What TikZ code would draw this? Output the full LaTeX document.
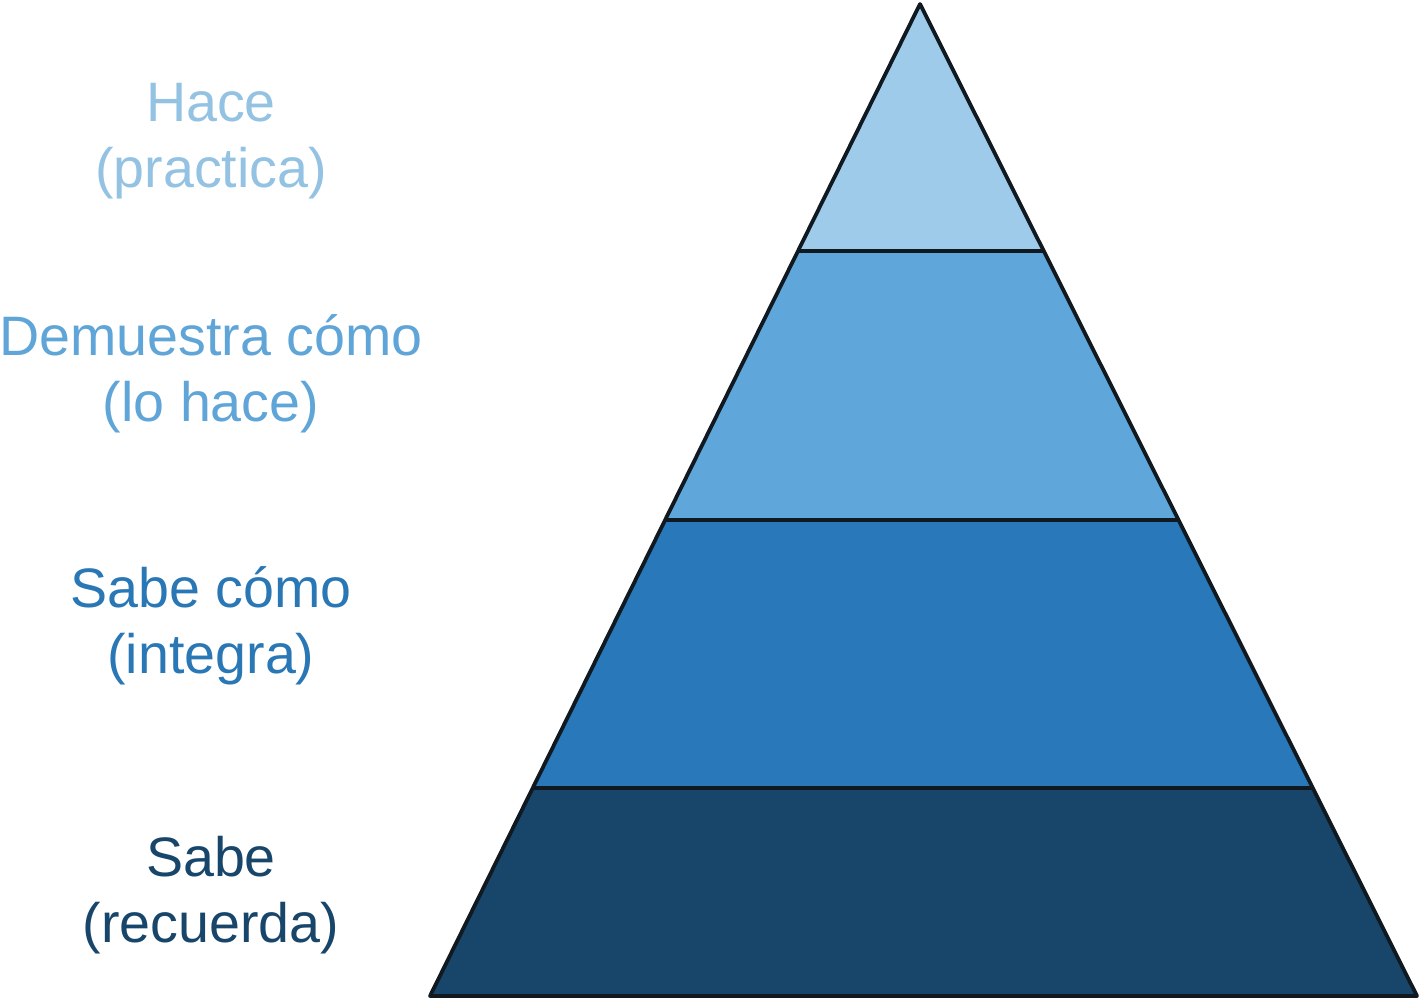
\documentclass[tikz,border=0pt]{standalone}
\usepackage{fontspec}
\setmainfont{Liberation Sans}
\definecolor{cA}{HTML}{9FCBEB}
\definecolor{cB}{HTML}{5FA7DB}
\definecolor{cC}{HTML}{2878BA}
\definecolor{cD}{HTML}{18466A}
\definecolor{tA}{HTML}{93C2E3}
\definecolor{tB}{HTML}{5FA5D8}
\definecolor{tC}{HTML}{2A77B5}
\definecolor{tD}{HTML}{18466A}
\definecolor{edge}{HTML}{101820}
\begin{document}
\begin{tikzpicture}[x=1pt,y=-1pt,
  band/.style={draw=edge,line width=3.8pt,line join=round},
  lbl/.style={align=center,font=\fontsize{55.6}{66}\selectfont,inner sep=0pt,anchor=base}]
\useasboundingbox (0,0) rectangle (1421,999);
\coordinate (T) at (920,4);
\coordinate (L) at (430,996);
\coordinate (R) at (1417,996);
\path (T) -- (L) coordinate[pos=0.249] (l1) coordinate[pos=0.52] (l2) coordinate[pos=0.79] (l3);
\path (T) -- (R) coordinate[pos=0.249] (r1) coordinate[pos=0.52] (r2) coordinate[pos=0.79] (r3);
\fill[cD] (l3) -- (L) -- (R) -- (r3) -- cycle;
\fill[cC] (l2) -- (l3) -- (r3) -- (r2) -- cycle;
\fill[cB] (l1) -- (l2) -- (r2) -- (r1) -- cycle;
\fill[cA] (T) -- (l1) -- (r1) -- cycle;
\draw[band] (l1) -- (r1) (l2) -- (r2) (l3) -- (r3);
\draw[band] (T) -- (L) -- (R) -- cycle;
\node[lbl,text=tA] (hace) at (211,187) {Hace\\(practica)};
\node[lbl,text=tB] (dem) at (211,421) {Demuestra cómo\\(lo hace)};
\node[lbl,text=tC] (sabecomo) at (211,673) {Sabe cómo\\(integra)};
\node[lbl,text=tD] (sabe) at (211,942) {Sabe\\(recuerda)};
\end{tikzpicture}
\end{document}
